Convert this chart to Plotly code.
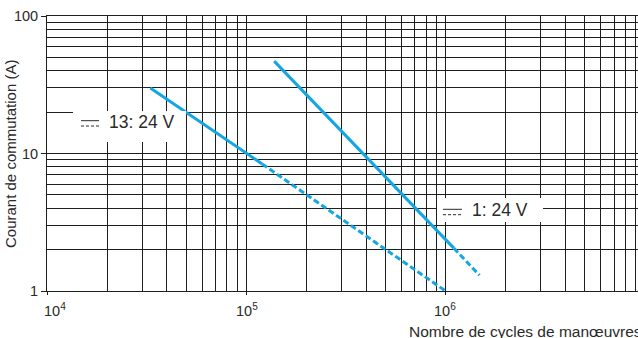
import math
import plotly.graph_objects as go

# Switching current vs. number of operating cycles (log-log)
cycles_13_solid = [3.3e4, 1.2e5]
current_13_solid = [30.0, 8.4]
cycles_13_dashed = [1.2e5, 1.0e6]
current_13_dashed = [8.4, 1.0]

cycles_1_solid = [1.38e5, 1.1e6]
current_1_solid = [47.0, 2.05]
cycles_1_dashed = [1.1e6, 1.48e6]
current_1_dashed = [2.05, 1.3]

curve_labels = ["13: 24 V", "1: 24 V"]
x_decades = [1e4, 1e5, 1e6, 1e7]
x_tick_text = ["10<sup>4</sup>", "10<sup>5</sup>", "10<sup>6</sup>", "10<sup>7</sup>"]
y_decades = [1, 10, 100]
y_tick_text = ["1", "10", "100"]

x_title = "Nombre de cycles de manœuvres"
y_title = "Courant de commutation (A)"

# ---- layout geometry (pixels) ----
W, H = 638, 338
L, R, T, B = 47, 0, 16, 47
PW, PH = W - L - R, H - T - B
DECADE_X = 199.3
x_range = [4, 4 + PW / DECADE_X]
y_range = [0, 2]

BLUE = "#14a6e2"
GRID = "#1e1e1e"
TXT = "#2a2a2a"
FONT = "Liberation Sans, Arial, sans-serif"


def px(x):
    return (x - L) / PW


def py(y):
    return (H - B - y) / PH


def minor_vals(lo_exp, hi_exp):
    vals = []
    for e in range(lo_exp, hi_exp):
        for m in range(2, 10):
            vals.append(m * 10 ** e)
    return vals


fig = go.Figure()

line_style = dict(color=BLUE, width=3)
fig.add_trace(go.Scatter(x=cycles_13_solid, y=current_13_solid, mode="lines",
                         line=line_style, showlegend=False))
fig.add_trace(go.Scatter(x=cycles_13_dashed, y=current_13_dashed, mode="lines",
                         line=dict(line_style, dash="6px,3px"), showlegend=False))
fig.add_trace(go.Scatter(x=cycles_1_solid, y=current_1_solid, mode="lines",
                         line=line_style, showlegend=False))
fig.add_trace(go.Scatter(x=cycles_1_dashed, y=current_1_dashed, mode="lines",
                         line=dict(line_style, dash="6px,3px"), showlegend=False))

fig.update_xaxes(
    type="log", range=x_range,
    tickvals=x_decades[:3], showticklabels=False,
    ticks="outside", ticklen=3, tickcolor=GRID, tickwidth=1,
    showgrid=True, gridcolor=GRID, gridwidth=1,
    minor=dict(tickvals=minor_vals(4, 7), showgrid=True, gridcolor=GRID,
               gridwidth=1, ticks=""),
    showline=True, linecolor=GRID, linewidth=1, mirror=True,
    zeroline=False,
)
fig.update_yaxes(
    type="log", range=y_range,
    tickvals=y_decades, ticktext=y_tick_text,
    ticks="outside", ticklen=5, tickcolor=GRID, tickwidth=1,
    tickfont=dict(family=FONT, size=14.5, color=TXT),
    showgrid=True, gridcolor=GRID, gridwidth=1,
    minor=dict(tickvals=minor_vals(0, 2), showgrid=True, gridcolor=GRID,
               gridwidth=1, ticks=""),
    showline=True, linecolor=GRID, linewidth=1,
    zeroline=False,
)

annotations = []
shapes = []

# x decade labels
x_shifts = [8, 1, -1, -12]
x_anchor = ["center", "center", "center", "right"]
for v, t, s, a in zip(x_decades, x_tick_text, x_shifts, x_anchor):
    annotations.append(dict(x=math.log10(v), y=py(299), xref="x", yref="paper",
                            text=t, showarrow=False, xanchor=a, yanchor="top",
                            xshift=s, font=dict(family=FONT, size=14.5, color=TXT)))

# axis titles
annotations.append(dict(x=px(407), y=py(331), xref="paper", yref="paper",
                        text=x_title, showarrow=False, xanchor="left",
                        yanchor="middle", font=dict(family=FONT, size=15.5, color=TXT)))
annotations.append(dict(x=px(10), y=py(154), xref="paper", yref="paper",
                        text=y_title, showarrow=False, textangle=-90,
                        xanchor="center", yanchor="middle",
                        font=dict(family=FONT, size=15, color=TXT)))

# curve label boxes: white panel, DC symbol (solid over dashed), text
boxes = [
    dict(box=(73, 111, 186, 142), sym=(81, 99, 120.7, 126.0), text_x=142, text_y=121.5),
    dict(box=(437, 198, 543, 222), sym=(443, 462, 209.3, 214.7), text_x=500, text_y=210.3),
]
for lab, b in zip(curve_labels, boxes):
    x0, y0, x1, y1 = b["box"]
    shapes.append(dict(type="rect", xref="paper", yref="paper",
                       x0=px(x0), x1=px(x1), y0=py(y1), y1=py(y0),
                       fillcolor="white", line=dict(width=0), layer="above"))
    sx0, sx1, sy_solid, sy_dash = b["sym"]
    shapes.append(dict(type="line", xref="paper", yref="paper",
                       x0=px(sx0), x1=px(sx1), y0=py(sy_solid), y1=py(sy_solid),
                       line=dict(color=TXT, width=1), layer="above"))
    shapes.append(dict(type="line", xref="paper", yref="paper",
                       x0=px(sx0), x1=px(sx1), y0=py(sy_dash), y1=py(sy_dash),
                       line=dict(color=TXT, width=1, dash="3px,2px"), layer="above"))
    annotations.append(dict(x=px(b["text_x"]), y=py(b["text_y"]), xref="paper",
                            yref="paper", text=lab, showarrow=False,
                            xanchor="center", yanchor="middle",
                            font=dict(family=FONT, size=17.5, color=TXT)))

fig.update_layout(
    width=W, height=H,
    margin=dict(l=L, r=R, t=T, b=B, pad=0),
    paper_bgcolor="white", plot_bgcolor="white",
    annotations=annotations, shapes=shapes,
    showlegend=False,
)

fig.write_html("out.html")
